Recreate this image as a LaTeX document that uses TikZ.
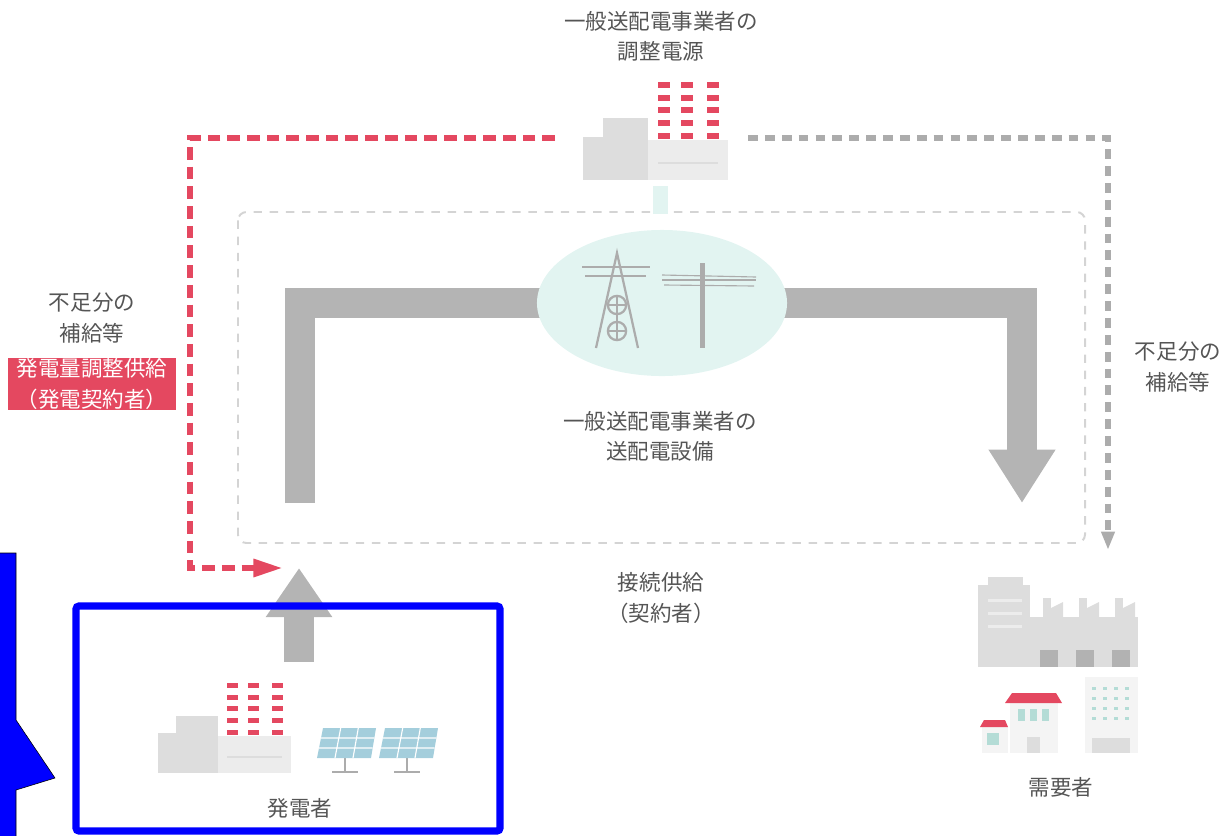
\documentclass[tikz,border=0pt]{standalone}
\usepackage{fontspec}
\setmainfont{Noto Sans CJK JP}
\usepackage{xcolor}
\usetikzlibrary{arrows.meta,shapes.geometric,positioning,backgrounds}
\definecolor{gridRed}{RGB}{228,72,96}
\definecolor{gridLine}{RGB}{172,172,172}
\definecolor{areaLine}{RGB}{212,212,212}
\definecolor{barGray}{RGB}{180,180,180}
\definecolor{ovalTeal}{RGB}{226,244,241}
\definecolor{bldgDark}{RGB}{221,221,221}
\definecolor{bldgLight}{RGB}{236,236,236}
\definecolor{bldgPale}{RGB}{244,244,244}
\definecolor{winGray}{RGB}{178,178,178}
\definecolor{winTeal}{RGB}{180,220,214}
\definecolor{panelBlue}{RGB}{164,206,220}
\definecolor{towerGray}{RGB}{172,172,172}
\definecolor{textGray}{RGB}{85,85,85}
\definecolor{markBlue}{RGB}{0,0,255}
\tikzset{
  lbl/.style={font=\fontsize{15.3}{21.5}\selectfont, text=textGray, align=center, inner sep=0pt},
  tagbox/.style={rectangle, fill=gridRed, text=white, font=\fontsize{15.3}{22}\selectfont,
    align=center, minimum width=4.2cm, minimum height=1.27cm, inner sep=0pt},
  gridoval/.style={ellipse, fill=ovalTeal, draw=none, minimum width=6.25cm, minimum height=3.65cm,
    inner sep=0pt},
  areabox/.style={draw=areaLine, line width=1.4pt, dash pattern=on 6pt off 5.5pt, rounded corners=6pt},
  flowbar/.style={draw=barGray, line width=22pt},
  flowarrow/.style={flowbar, -{Triangle[length=38pt,width=45pt]}},
  shortred/.style={draw=gridRed, line width=4.4pt, dash pattern=on 9pt off 5pt,
    -{Triangle[length=21pt,width=12pt]}},
  shortgray/.style={draw=gridLine, line width=3.6pt, dash pattern=on 7pt off 5pt,
    -{Triangle[length=13pt,width=9pt]}},
  towerline/.style={draw=towerGray, line width=1.6pt},
  markframe/.style={draw=markBlue, line width=5pt, rounded corners=2pt},
  plant/.pic={
    \fill[bldgDark] (0,0) rectangle (65,-43);
    \fill[bldgDark] (20,-43) rectangle (65,-62);
    \fill[bldgLight] (65,0) rectangle (145,-40);
    \fill[bldgDark] (75,-16) rectangle (135,-18);
    \foreach \cx in {81,104,130}
      \foreach \cy in {-95,-82,-70,-57,-44}
        \fill[gridRed] (\cx-6,\cy-2.6) rectangle (\cx+6,\cy+2.6);
  },
  panel/.pic={
    \draw[towerGray, line width=1.4pt] (0,-14) -- (0,0) (-13,0) -- (13,0);
    \fill[panelBlue] (-28,-14) -- (26,-14) -- (31,-44) -- (-22,-44) -- cycle;
    \draw[white, line width=0.8pt] (-10,-14) -- (-4.3,-44) (8,-14) -- (13.3,-44)
      (-26,-24) -- (27.7,-24) (-24,-34) -- (29.3,-34);
  },
}

\begin{document}
\begin{tikzpicture}[x=0.025cm,y=-0.025cm]
  \useasboundingbox (0,0) rectangle (1220,835);

  % --- network area ---
  \draw[areabox] (238,212) rectangle (1085,543);
  \fill[ovalTeal] (653,186) rectangle (668,214);
  \node[gridoval] (grid) at (662,303) {};

  % --- pylon and pole ---
  \draw[towerline] (596,348) -- (617,253) -- (638,348);
  \draw[towerline] (582,267) -- (650,267) (585,276) -- (646,276);
  \draw[towerline] (617,305) circle[radius=6.5pt] (617,331) circle[radius=6.5pt];
  \draw[towerline] (617,296) -- (617,340) (608,305) -- (626,305) (608,331) -- (626,331);
  \fill[towerGray] (700,263) rectangle (705,348);
  \draw[towerline] (662,280) -- (756,280);
  \draw[towerGray, line width=0.8pt] (662,275) -- (756,277) (664,285) -- (754,286);

  % --- transmission flow ---
  \coordinate (inBase) at (300,503);
  \coordinate (inCorner) at (300,303);
  \coordinate (outCorner) at (1022,303);
  \coordinate (outTip) at (1022,503);
  \coordinate (genBase) at (299,662);
  \coordinate (genTip) at (299,568);
  \begin{scope}[on background layer]
    \draw[flowbar] (inBase) -- (inCorner) -- (grid.center);
    \draw[flowarrow] (grid.center) -- (outCorner) -- (outTip);
  \end{scope}
  \draw[flowbar, -{Triangle[length=35pt,width=45pt]}] (genBase) -- (genTip);

  % --- balancing supply lines ---
  \coordinate (redStart) at (555,138);
  \coordinate (redTurn) at (190,568);
  \coordinate (redEnd) at (283,568);
  \coordinate (grayStart) at (748,138);
  \coordinate (grayEnd) at (1108,550);
  \draw[shortred] (redStart) -| (redTurn) -- (redEnd);
  \draw[shortgray] (grayStart) -| (grayEnd);

  % --- plants ---
  \pic (adjPlant) at (583,180) {plant};
  \pic[scale=0.92] (genPlant) at (158,773) {plant};
  \pic (solarA) at (345,772) {panel};
  \pic (solarB) at (407,772) {panel};

  % --- consumers ---
  \fill[bldgDark] (988,577) rectangle (1023,585);
  \fill[bldgDark] (978,585) rectangle (1030,667);
  \foreach \sy in {599,612,625}
    \fill[bldgLight] (988,\sy) rectangle (1022,\sy+3);
  \fill[bldgDark] (1030,617) rectangle (1138,667);
  \foreach \cx in {1043,1079,1115}{
    \fill[bldgDark] (\cx,617) rectangle (\cx+8,598);
    \fill[bldgDark] (\cx+8,617) -- (\cx+8,608) -- (\cx+20,602) -- (\cx+20,617) -- cycle;
  }
  \foreach \wx in {1040,1076,1112}
    \fill[winGray] (\wx,650) rectangle (\wx+18,667);
  \fill[bldgPale] (1085,677) rectangle (1138,753);
  \foreach \wx in {1094,1105,1116,1127}
    \foreach \wy in {688,698,708,718}
      \fill[winTeal] (\wx-2,\wy-1.5) rectangle (\wx+2,\wy+1.5);
  \fill[bldgDark] (1092,738) rectangle (1130,753);
  \fill[bldgPale] (1010,703) rectangle (1058,753);
  \fill[gridRed] (1005,703) -- (1062,703) -- (1056,693) -- (1012,693) -- cycle;
  \foreach \wx in {1018,1030,1042}
    \fill[winTeal] (\wx,709) rectangle (\wx+7,721);
  \fill[bldgDark] (1027,737) rectangle (1040,753);
  \fill[bldgPale] (982,727) rectangle (1008,753);
  \fill[gridRed] (980,727) -- (1008,727) -- (1005,720) -- (984,720) -- cycle;
  \fill[winTeal] (987,733) rectangle (999,745);

  % --- labels ---
  \node[lbl] (adjLbl) at (661,36) {一般送配電事業者の\\調整電源};
  \node[lbl] (netLbl) at (660,436) {一般送配電事業者の\\送配電設備};
  \node[lbl] (supplyLbl) at (661,598) {接続供給\\（契約者）};
  \node[lbl] (shortL) at (92,318) {不足分の\\補給等};
  \node[tagbox] (tagL) at (92,384) {発電量調整供給\\（発電契約者）};
  \node[lbl] (shortR) at (1178,367) {不足分の\\補給等};
  \node[lbl] (genLbl) at (300,808) {発電者};
  \node[lbl] (loadLbl) at (1061,787) {需要者};

  % --- marker ---
  \draw[markframe] (76,606) rectangle (500,831);
  \filldraw[fill=markBlue, draw=black, line width=0.4pt]
    (-5,553) -- (16,553) -- (16,720) -- (55,778) -- (16,790) -- (16,845) -- (-5,845) -- cycle;
\end{tikzpicture}
\end{document}
